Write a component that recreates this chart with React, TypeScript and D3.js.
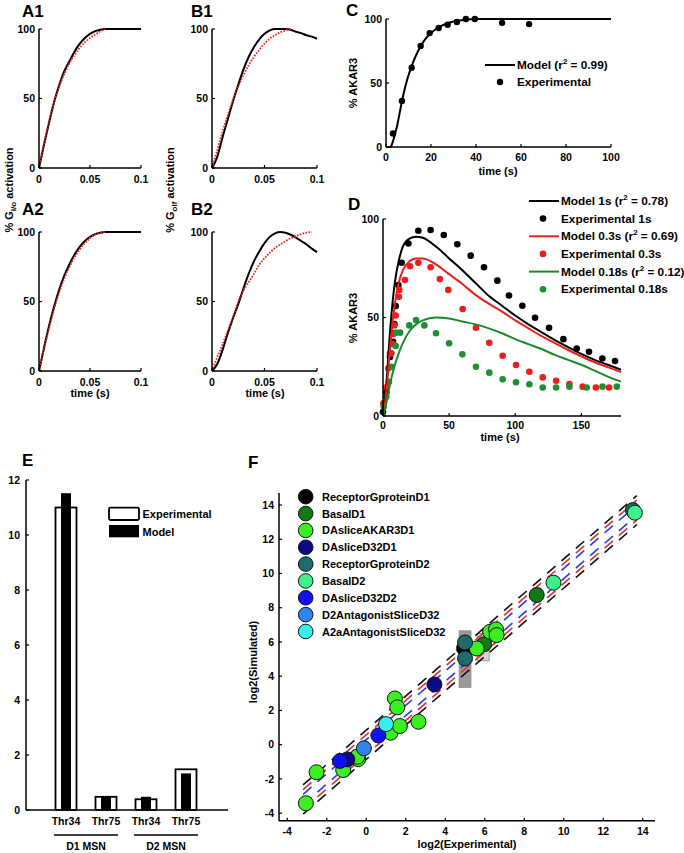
import React from 'react';
import * as d3 from 'd3';

const FONT = "'Liberation Sans', Arial, Helvetica, sans-serif";

// ---------- Panels A / B : G protein activation ----------
const gTime = [0, 0.005, 0.01, 0.015, 0.02, 0.025, 0.03, 0.035, 0.04, 0.045, 0.05, 0.055, 0.06, 0.065, 0.07, 0.075, 0.08, 0.085, 0.09, 0.095, 0.1];
const a1Model = [0, 17, 33, 48, 60, 70, 77, 84, 89.5, 93.5, 96.5, 98.5, 99.5, 100, 100, 100, 100, 100, 100, 100, 100];
const a1Exp = [0, 18, 34, 48, 59, 68, 75.5, 81.5, 86.5, 90.5, 93.5, 96, 98.2, 100];
const a2Model = [0, 17, 33, 47, 59, 69, 77, 84, 89.5, 93.5, 96.5, 98.5, 99.5, 100, 100, 100, 100, 100, 100, 100, 100];
const a2Exp = [0, 16, 31, 45, 57, 67, 75, 82, 87.5, 92, 95.5, 98, 99.5, 100];
const b1Model = [0, 8, 22, 35, 48, 60, 71, 80, 87, 92.5, 96.5, 99, 100, 100, 100, 99.5, 98, 97, 95.5, 94.5, 93];
const b1Exp = [0, 13, 26, 38, 49, 58.5, 67, 74, 80, 85, 89.5, 93, 95.5, 97.5, 99, 100];
const b2Model = [0, 5, 15, 27, 38, 48, 59.5, 70, 79, 86, 92, 96.5, 99, 100, 99.5, 98, 96, 93.5, 91, 88, 85.5];
const b2Exp = [0, 10, 19, 29, 39, 50, 58, 64, 70, 76.5, 81, 85, 88.5, 91, 93.5, 95.5, 97, 98.5, 99.5, 100];
const gXTicks = [0, 0.05, 0.1];
const gYTicks = [0, 50, 100];

// ---------- Panel C ----------
const cModelTime = [0, 2, 3, 4, 5, 6, 7, 8, 9, 10, 12, 14, 16, 18, 20, 22, 25, 30, 35, 40, 60, 80, 100];
const cModelValue = [0, 0, 4, 10, 17, 26, 35, 43, 50, 56, 66, 74, 80.5, 85.5, 89, 92, 95, 98, 99.4, 100, 100, 100, 100];
const cExpTime = [3.1, 7.1, 11.4, 15.4, 19.4, 23.4, 27.4, 31.5, 35.5, 39.5, 51.6, 63.6];
const cExpValue = [10.5, 36, 62, 79, 89, 93, 95.5, 97.6, 100, 100, 97, 96];
const cXTicks = [0, 20, 40, 60, 80, 100];
const cYTicks = [0, 50, 100];

// ---------- Panel D ----------
const dModelTime = [0, 3, 5, 7, 9, 12, 15, 20, 25, 30, 40, 50, 60, 70, 80, 90, 100, 110, 120, 130, 140, 150, 160, 170, 180];
const dModel1s = [0, 20, 40, 56, 68, 79, 86, 90, 91, 90.5, 86, 80, 74, 67.5, 61, 56, 51, 46.5, 42.5, 38.5, 35, 31.5, 28.5, 26, 23.5];
const dModel03s = [0, 15, 32, 46, 57, 68, 74, 78.5, 80, 80, 77, 72, 67, 61.5, 57, 53, 48.5, 44.5, 40.5, 37, 33.5, 30.3, 27.3, 24.8, 22.3];
const dModel018s = [0, 8, 15, 21, 26, 32, 37, 43, 46.5, 48.5, 50, 49.5, 48, 46.5, 44.5, 42, 39, 36.5, 34, 31, 28.5, 26, 23, 20, 17.4];
const dExp1sTime = [0, 2.5, 5.3, 7.6, 7.8, 8.6, 9.6, 11.6, 14.1, 19.2, 26.7, 36, 46, 56.2, 66.3, 76.4, 86.5, 95.3, 105.4, 115, 125.6, 136.4, 146.5, 155.8, 165.9, 175.5];
const dExp1sValue = [2, 12, 30, 37.7, 42, 46.7, 55.8, 66.5, 77.8, 87.6, 94, 94.4, 91.9, 87.2, 81.4, 75.5, 68.7, 61.2, 56, 49.9, 44.8, 39, 34.3, 32.6, 29.2, 27.9];
const dExp03sTime = [0.3, 2.3, 4.1, 5.3, 6.3, 7.3, 8, 8.6, 9.6, 12, 12.3, 16.6, 20.4, 26.7, 36, 43, 49.4, 60.3, 70.3, 80.4, 90.5, 100.6, 110.7, 120.8, 130.9, 141, 151, 161, 171];
const dExp03sValue = [6.4, 14.5, 24.2, 31.8, 31.8, 36.5, 41.6, 46, 51, 60.5, 64, 69, 76, 77.8, 75.5, 69.5, 64, 54.3, 44.8, 37.2, 30.6, 25.9, 22.5, 19.6, 17.9, 16.2, 14.9, 14.5, 14.5];
const dExp018sTime = [0.5, 2.5, 4.5, 6.3, 9.6, 10, 12.9, 19.9, 25, 31.3, 40.1, 50, 60, 70.3, 80.4, 90.5, 100.6, 110.7, 120.8, 130.9, 141, 154, 166, 176.8];
const dExp018sValue = [4.7, 9.8, 17.4, 25, 35.5, 42.3, 42.3, 46, 48.7, 46, 42, 36.9, 31.3, 25, 22, 18.6, 17.1, 16.1, 14.5, 14.5, 14.9, 14.5, 14.9, 14.9];
const dXTicks = [0, 50, 100, 150];
const dYTicks = [0, 50, 100];

// ---------- Panel E ----------
const eSites = ['Thr34', 'Thr75', 'Thr34', 'Thr75'];
const eExperimental = [11, 0.48, 0.39, 1.48];
const eModel = [11.52, 0.48, 0.48, 1.33];
const eGroups = ['D1 MSN', 'D2 MSN'];
const eYTicks = [0, 2, 4, 6, 8, 10, 12];

// ---------- Panel F ----------
const fSetNames = ['ReceptorGproteinD1', 'BasalD1', 'DAsliceAKAR3D1', 'DAsliceD32D1', 'ReceptorGproteinD2', 'BasalD2', 'DAsliceD32D2', 'D2AntagonistSliceD32', 'A2aAntagonistSliceD32'];
const fSetColors = ['#000000', '#127a12', '#3af020', '#0a0a84', '#1d6b6b', '#3cf08c', '#1010f0', '#2f86ea', '#36f0f0'];
const fExperimental = [4.95, 5.96, 8.63, -3.06, -2.52, -1.17, -0.41, -0.45, 1.23, 1.7, 1.45, 1.57, 2.64, 5.59, 6.27, 6.57, 6.6, -0.96, 3.45, 5.0, 5.0, 13.5, 9.48, 13.6, -1.33, 0.61, -0.12, 1.0];
const fSimulated = [5.62, 5.86, 8.74, -3.42, -1.61, -1.48, -0.84, -0.7, 0.7, 1.09, 2.7, 2.18, 1.34, 5.62, 6.6, 6.73, 6.4, -0.86, 3.52, 5.97, 5.04, 13.7, 9.46, 13.55, -0.95, 0.54, -0.21, 1.2];
const fSet = [0, 1, 1, 2, 2, 2, 2, 2, 2, 2, 2, 2, 2, 2, 2, 2, 2, 3, 3, 4, 4, 4, 5, 5, 6, 6, 7, 8];
const fBoxX0 = [4.7, 5.62];
const fBoxX1 = [5.3, 6.22];
const fBoxY0 = [3.35, 4.9];
const fBoxY1 = [6.65, 6.5];
const fBoxFill = ['#9a9a9a', '#d6d6d6'];
const fLineRange = [-3.2, 13.7];
const fLineOffsets = [0.85, 0.58, 0.3, -0.3, -0.58, -0.85];
const fLineColors = ['#111111', '#e0302a', '#2a3ae8', '#2a3ae8', '#e0302a', '#111111'];
const fTicks = [-4, -2, 0, 2, 4, 6, 8, 10, 12, 14];

type Lin = d3.ScaleLinear<number, number>;

function Axes({ x, y, xTicks, yTicks, xFmt, yFmt, fs = 10.5, xLabDy = 14.5, yLabDx = 4, tick = 3 }: any) {
  const [x0, x1] = x.range();
  const [y0, y1] = y.range();
  const fx = xFmt || ((v: number) => String(v));
  const fy = yFmt || ((v: number) => String(v));
  return (
    <g fontFamily={FONT} fontWeight="bold" fontSize={fs}>
      <line x1={x0} x2={x1} y1={y0} y2={y0} stroke="#000" strokeWidth={1.5} />
      <line x1={x0} x2={x0} y1={y0} y2={y1} stroke="#000" strokeWidth={1.5} />
      {xTicks.map((v: number) => (
        <g key={'x' + v}>
          <line x1={x(v)} x2={x(v)} y1={y0} y2={y0 - tick} stroke="#000" strokeWidth={1.2} />
          <text x={x(v)} y={y0 + xLabDy} textAnchor="middle">{fx(v)}</text>
        </g>
      ))}
      {yTicks.map((v: number) => (
        <g key={'y' + v}>
          <line x1={x0} x2={x0 + tick} y1={y(v)} y2={y(v)} stroke="#000" strokeWidth={1.2} />
          <text x={x0 - yLabDx} y={y(v) + fs * 0.36} textAnchor="end">{fy(v)}</text>
        </g>
      ))}
    </g>
  );
}

function curvePath(x: Lin, y: Lin, xs: number[], ys: number[]) {
  const pts: [number, number][] = ys.map((v, i) => [xs[i], v]);
  return d3.line<[number, number]>().x(d => x(d[0])).y(d => y(d[1])).curve(d3.curveMonotoneX)(pts) || '';
}

const gFmt = (v: number) => (v === 0 ? '0' : String(v));

function GPanel({ x, y, model, exp, label, lx, ly }: any) {
  return (
    <g>
      <text x={lx} y={ly} fontFamily={FONT} fontWeight="bold" fontSize={17}>{label}</text>
      <path d={curvePath(x, y, gTime, model)} fill="none" stroke="#000" strokeWidth={2} />
      <path d={curvePath(x, y, gTime, exp)} fill="none" stroke="#e5231f" strokeWidth={1.8} strokeDasharray="1.6 1.4" />
      <Axes x={x} y={y} xTicks={gXTicks} yTicks={gYTicks} xFmt={gFmt} />
    </g>
  );
}

function Sup({ pre, post }: { pre: string; post: string }) {
  return (
    <>
      <tspan>{pre}</tspan>
      <tspan dy={-5} fontSize={8}>2</tspan>
      <tspan dy={5}>{post}</tspan>
    </>
  );
}

export default function App() {
  const xA = d3.scaleLinear().domain([0, 0.1]).range([39, 141]);
  const xB = d3.scaleLinear().domain([0, 0.1]).range([212, 317]);
  const yTop = d3.scaleLinear().domain([0, 100]).range([168, 29]);
  const yBot = d3.scaleLinear().domain([0, 100]).range([371, 232]);

  const xC = d3.scaleLinear().domain([0, 100]).range([386, 611]);
  const yC = d3.scaleLinear().domain([0, 100]).range([147, 19]);

  const xD = d3.scaleLinear().domain([0, 180]).range([383, 621]);
  const yD = d3.scaleLinear().domain([0, 100]).range([416, 219]);

  const xE = d3.scaleBand<number>().domain(eSites.map((_, i) => i)).range([46, 206]);
  const yE = d3.scaleLinear().domain([0, 12]).range([810, 480]);
  const eCenter = (i: number) => (xE(i) as number) + xE.bandwidth() / 2;

  const xF = d3.scaleLinear().domain([-4.42, 14.62]).range([279, 655]);
  const yF = d3.scaleLinear().domain([-4.44, 14.7]).range([820.7, 493]);

  const dSeries = [
    { t: dModelTime, v: dModel1s, et: dExp1sTime, ev: dExp1sValue, color: '#000000', dot: '#000000', name: 'Model 1s', r2: ' = 0.78)', ename: 'Experimental 1s' },
    { t: dModelTime, v: dModel03s, et: dExp03sTime, ev: dExp03sValue, color: '#e8201c', dot: '#ee1c1c', name: 'Model 0.3s', r2: ' = 0.69)', ename: 'Experimental 0.3s' },
    { t: dModelTime, v: dModel018s, et: dExp018sTime, ev: dExp018sValue, color: '#1c8a2c', dot: '#1f8f34', name: 'Model 0.18s', r2: ' = 0.12)', ename: 'Experimental 0.18s' },
  ];

  const textStyle = { fontFamily: FONT, fontWeight: 'bold' as const };

  return (
    <svg width={684} height={853} style={{ position: 'absolute', left: 0, top: 0, background: '#fff' }}>
      <rect x={0} y={0} width={684} height={853} fill="#fff" />

      {/* ---- A / B ---- */}
      <GPanel x={xA} y={yTop} model={a1Model} exp={a1Exp} label="A1" lx={22} ly={17} />
      <GPanel x={xA} y={yBot} model={a2Model} exp={a2Exp} label="A2" lx={22} ly={215} />
      <GPanel x={xB} y={yTop} model={b1Model} exp={b1Exp} label="B1" lx={191} ly={17} />
      <GPanel x={xB} y={yBot} model={b2Model} exp={b2Exp} label="B2" lx={191} ly={215} />
      <text {...textStyle} fontSize={11} textAnchor="middle" x={90} y={397}>time (s)</text>
      <text {...textStyle} fontSize={11} textAnchor="middle" x={265} y={397}>time (s)</text>
      <text {...textStyle} fontSize={11} textAnchor="middle" transform="translate(13,190) rotate(-90)">
        % G<tspan fontSize={8} dy={3}>i/o</tspan><tspan dy={-3}> activation</tspan>
      </text>
      <text {...textStyle} fontSize={11} textAnchor="middle" transform="translate(174,190) rotate(-90)">
        % G<tspan fontSize={8} dy={3}>olf</tspan><tspan dy={-3}> activation</tspan>
      </text>

      {/* ---- C ---- */}
      <text {...textStyle} fontSize={17} x={346} y={16}>C</text>
      <path d={curvePath(xC, yC, cModelTime, cModelValue)} fill="none" stroke="#000" strokeWidth={2} />
      {cExpTime.map((t, i) => (
        <circle key={'c' + i} cx={xC(t)} cy={yC(cExpValue[i])} r={3.2} fill="#000" />
      ))}
      <Axes x={xC} y={yC} xTicks={cXTicks} yTicks={cYTicks} xLabDy={13.5} />
      <text {...textStyle} fontSize={11} textAnchor="middle" x={498} y={175}>time (s)</text>
      <text {...textStyle} fontSize={11} textAnchor="middle" transform="translate(357,83) rotate(-90)">% AKAR3</text>
      <line x1={485} x2={515} y1={65} y2={65} stroke="#000" strokeWidth={2} />
      <text {...textStyle} fontSize={11.8} x={517} y={69}><Sup pre="Model (r" post=" = 0.99)" /></text>
      <circle cx={500} cy={82} r={3.2} fill="#000" />
      <text {...textStyle} fontSize={11.8} x={517} y={86}>Experimental</text>

      {/* ---- D ---- */}
      <text {...textStyle} fontSize={17} x={348} y={210}>D</text>
      {dSeries.map((s, k) => (
        <g key={'ds' + k}>
          {s.et.map((t, i) => (
            <circle key={i} cx={xD(t)} cy={yD(s.ev[i])} r={3.3} fill={s.dot} />
          ))}
        </g>
      ))}
      {dSeries.map((s, k) => (
        <path key={'dl' + k} d={curvePath(xD, yD, s.t, s.v)} fill="none" stroke={s.color} strokeWidth={2} />
      ))}
      <Axes x={xD} y={yD} xTicks={dXTicks} yTicks={dYTicks} xLabDy={13} />
      <text {...textStyle} fontSize={11} textAnchor="middle" x={500} y={441}>time (s)</text>
      <text {...textStyle} fontSize={11} textAnchor="middle" transform="translate(357,318) rotate(-90)">% AKAR3</text>
      {dSeries.map((s, k) => {
        const yl = 201 + k * 35.3;
        const yd = yl + 17.6;
        return (
          <g key={'dleg' + k}>
            <line x1={529} x2={559} y1={yl} y2={yl} stroke={s.color} strokeWidth={2} />
            <text {...textStyle} fontSize={11.8} x={561} y={yl + 4}><Sup pre={s.name + ' (r'} post={s.r2} /></text>
            <circle cx={543} cy={yd} r={3.3} fill={s.dot} />
            <text {...textStyle} fontSize={11.8} x={561} y={yd + 4}>{s.ename}</text>
          </g>
        );
      })}

      {/* ---- E ---- */}
      <text {...textStyle} fontSize={17} x={22} y={466}>E</text>
      {eSites.map((_, i) => (
        <g key={'e' + i}>
          <rect x={eCenter(i) - 10.5} y={yE(eExperimental[i])} width={21} height={yE(0) - yE(eExperimental[i])} fill="#fff" stroke="#000" strokeWidth={1.8} />
          <rect x={eCenter(i) - 5} y={yE(eModel[i])} width={10} height={yE(0) - yE(eModel[i])} fill="#000" />
        </g>
      ))}
      <g {...textStyle} fontSize={10.5}>
        <line x1={26} x2={228} y1={yE(0)} y2={yE(0)} stroke="#000" strokeWidth={1.5} />
        <line x1={26} x2={26} y1={yE(0)} y2={yE(12)} stroke="#000" strokeWidth={1.5} />
        {eYTicks.map(v => (
          <g key={'ey' + v}>
            <line x1={26} x2={29} y1={yE(v)} y2={yE(v)} stroke="#000" strokeWidth={1.2} />
            <text x={20} y={yE(v) + 3.8} textAnchor="end">{v}</text>
          </g>
        ))}
        {eSites.map((s, i) => (
          <text key={'es' + i} x={eCenter(i)} y={825} textAnchor="middle">{s}</text>
        ))}
        {eGroups.map((g, k) => {
          const a = eCenter(k * 2) - 12;
          const b = eCenter(k * 2 + 1) + 12;
          return (
            <g key={'eg' + k}>
              <line x1={a} x2={b} y1={835} y2={835} stroke="#000" strokeWidth={1.5} />
              <text x={(a + b) / 2} y={850} textAnchor="middle">{g}</text>
            </g>
          );
        })}
      </g>
      <rect x={109} y={507.7} width={30} height={12.3} fill="#fff" stroke="#000" strokeWidth={1.8} rx={1.5} />
      <text {...textStyle} fontSize={11} x={142.5} y={518}>Experimental</text>
      <rect x={109} y={525} width={30} height={12.3} fill="#000" />
      <text {...textStyle} fontSize={11} x={142.5} y={535.5}>Model</text>

      {/* ---- F ---- */}
      <text {...textStyle} fontSize={17} x={248} y={468}>F</text>
      {fBoxX0.map((x0, i) => (
        <rect key={'fb' + i} x={xF(x0)} y={yF(fBoxY1[i])} width={xF(fBoxX1[i]) - xF(x0)} height={yF(fBoxY0[i]) - yF(fBoxY1[i])} fill={fBoxFill[i]} stroke="#888" strokeWidth={0.8} />
      ))}
      {fLineOffsets.map((c, i) => (
        <line key={'fl' + i} x1={xF(fLineRange[0])} y1={yF(fLineRange[0] + c)} x2={xF(fLineRange[1])} y2={yF(fLineRange[1] + c)} stroke={fLineColors[i]} strokeWidth={1.6} strokeDasharray="11 8" />
      ))}
      {fExperimental.map((xv, i) => (
        <circle key={'fp' + i} cx={xF(xv)} cy={yF(fSimulated[i])} r={7.5} fill={fSetColors[fSet[i]]} stroke="#111" strokeWidth={1} />
      ))}
      <Axes x={xF} y={yF} xTicks={fTicks} yTicks={fTicks} xLabDy={14} yLabDx={5} />
      <text {...textStyle} fontSize={11} textAnchor="middle" x={467} y={848}>log2(Experimental)</text>
      <text {...textStyle} fontSize={11} textAnchor="middle" transform="translate(257,662) rotate(-90)">log2(Simulated)</text>
      {fSetNames.map((n, i) => (
        <g key={'fleg' + i}>
          <circle cx={305.7} cy={496.7 + i * 16.85} r={7.3} fill={fSetColors[i]} stroke="#111" strokeWidth={1} />
          <text {...textStyle} fontSize={11} x={322} y={496.7 + i * 16.85 + 4}>{n}</text>
        </g>
      ))}
    </svg>
  );
}
